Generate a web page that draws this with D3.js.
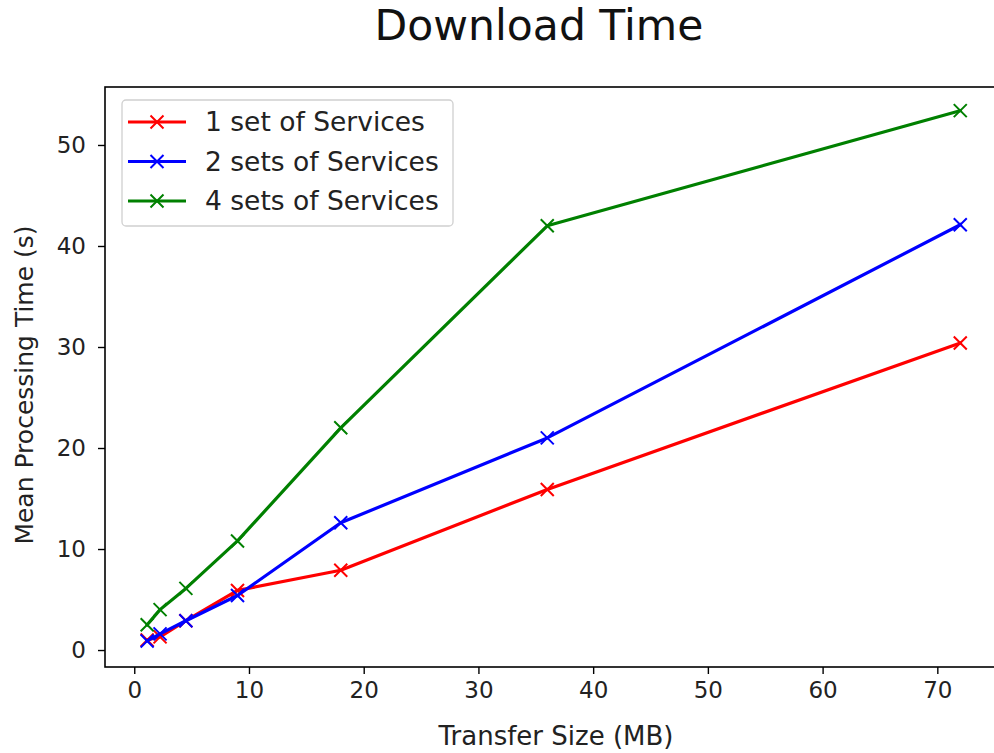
<!DOCTYPE html>
<html>
<head>
<meta charset="utf-8">
<script src="https://cdn.jsdelivr.net/npm/d3@7"></script>
<style>
  html, body { margin: 0; padding: 0; background: #fff; }
  text { font-family: "DejaVu Sans", sans-serif; }
</style>
</head>
<body>
<svg id="chart" width="994" height="753"></svg>
<script>
const transferSizes = [1.125, 2.25, 4.5, 9, 18, 36, 72];
const oneSet   = [1.0, 1.3, 2.9, 5.9, 7.9, 15.9, 30.4];
const twoSets  = [0.9, 1.6, 2.9, 5.4, 12.6, 21.0, 42.1];
const fourSets = [2.5, 4.0, 6.1, 10.8, 22.0, 42.0, 53.4];
const seriesNames = ["1 set of Services", "2 sets of Services", "4 sets of Services"];
const seriesColors = ["#ff0000", "#0000ff", "#008000"];
const xTicks = [0, 10, 20, 30, 40, 50, 60, 70];
const yTicks = [0, 10, 20, 30, 40, 50];

const series = [oneSet, twoSets, fourSets].map((vals, i) => ({
  name: seriesNames[i], color: seriesColors[i],
  points: vals.map((v, j) => ({ x: transferSizes[j], y: v }))
}));

const svg = d3.select("#chart");
const L = 105, R = 1001, T = 87, B = 667;

const x = d3.scaleLinear().domain([-2.55, 75.55]).range([L, R]);
const y = d3.scaleLinear().domain([-1.68, 55.74]).range([B, T]);

// axes frame
svg.append("rect").attr("x", L).attr("y", T).attr("width", R - L).attr("height", B - T)
  .attr("fill", "none").attr("stroke", "#000").attr("stroke-width", 1.6);

// x axis
const xAxis = svg.append("g").attr("transform", `translate(0,${B})`)
  .call(d3.axisBottom(x).tickValues(xTicks).tickSize(7).tickPadding(8).tickFormat(d3.format("d")));
xAxis.select(".domain").remove();
xAxis.selectAll("line").attr("stroke", "#000").attr("stroke-width", 1.4);
xAxis.selectAll("text").attr("font-size", 23).attr("fill", "#222").attr("font-family", "DejaVu Sans");

// y axis
const yAxis = svg.append("g").attr("transform", `translate(${L},0)`)
  .call(d3.axisLeft(y).tickValues(yTicks).tickSize(7).tickPadding(12).tickFormat(d3.format("d")));
yAxis.select(".domain").remove();
yAxis.selectAll("line").attr("stroke", "#000").attr("stroke-width", 1.4);
yAxis.selectAll("text").attr("font-size", 23).attr("fill", "#222").attr("font-family", "DejaVu Sans");

// labels
svg.append("text").attr("x", 556).attr("y", 745).attr("text-anchor", "middle")
  .attr("font-size", 26).attr("fill", "#222").text("Transfer Size (MB)");
svg.append("text").attr("transform", `translate(33,385) rotate(-90)`)
  .attr("text-anchor", "middle").attr("font-size", 25).attr("fill", "#222")
  .text("Mean Processing Time (s)");
svg.append("text").attr("x", 539).attr("y", 40).attr("text-anchor", "middle")
  .attr("font-size", 42.5).attr("fill", "#111").text("Download Time");

// lines
const line = d3.line().x(d => x(d.x)).y(d => y(d.y));
const plot = svg.append("g");
const ms = 6.5;
series.forEach(s => {
  plot.append("path").datum(s.points).attr("d", line)
    .attr("fill", "none").attr("stroke", s.color).attr("stroke-width", 3.2)
    .attr("stroke-linejoin", "round").attr("stroke-linecap", "square");
  plot.selectAll(null).data(s.points).enter().append("path")
    .attr("d", d => {
      const cx = x(d.x), cy = y(d.y);
      return `M${cx - ms},${cy - ms}L${cx + ms},${cy + ms}M${cx - ms},${cy + ms}L${cx + ms},${cy - ms}`;
    })
    .attr("stroke", s.color).attr("stroke-width", 2).attr("fill", "none");
});

// legend
const lg = svg.append("g");
lg.append("rect").attr("x", 122).attr("y", 100).attr("width", 331).attr("height", 126)
  .attr("rx", 4).attr("fill", "#fff").attr("fill-opacity", 0.8)
  .attr("stroke", "#d0d0d0").attr("stroke-width", 1.3);
series.forEach((s, i) => {
  const cy = 122 + i * 39.5;
  lg.append("line").attr("x1", 128).attr("x2", 186).attr("y1", cy).attr("y2", cy)
    .attr("stroke", s.color).attr("stroke-width", 3.2);
  const cx = 157;
  lg.append("path")
    .attr("d", `M${cx - ms},${cy - ms}L${cx + ms},${cy + ms}M${cx - ms},${cy + ms}L${cx + ms},${cy - ms}`)
    .attr("stroke", s.color).attr("stroke-width", 2);
  lg.append("text").attr("x", 205).attr("y", cy + 9).attr("font-size", 26.5)
    .attr("fill", "#222").text(s.name);
});
</script>
</body>
</html>
